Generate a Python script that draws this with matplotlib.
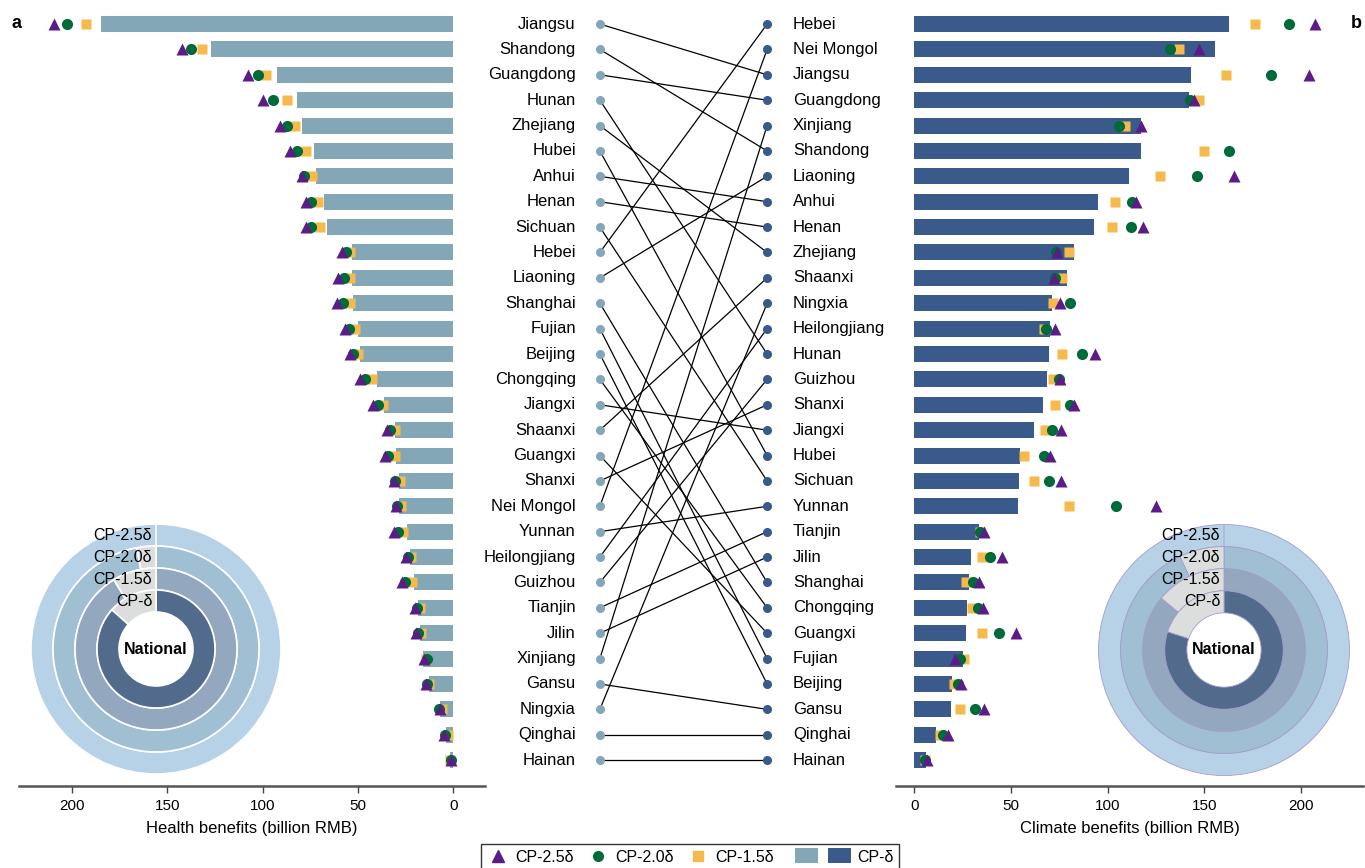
import numpy as np
import matplotlib.pyplot as plt
from matplotlib.lines import Line2D
from matplotlib.patches import Patch, Rectangle

plt.rcParams['font.family'] = ['Liberation Sans', 'DejaVu Sans']

# Provinces ranked by health benefits (panel a)
health_provinces = ['Jiangsu', 'Shandong', 'Guangdong', 'Hunan', 'Zhejiang', 'Hubei', 'Anhui',
                    'Henan', 'Sichuan', 'Hebei', 'Liaoning', 'Shanghai', 'Fujian', 'Beijing',
                    'Chongqing', 'Jiangxi', 'Shaanxi', 'Guangxi', 'Shanxi', 'Nei Mongol', 'Yunnan',
                    'Heilongjiang', 'Guizhou', 'Tianjin', 'Jilin', 'Xinjiang', 'Gansu', 'Ningxia',
                    'Qinghai', 'Hainan']
health_cp10 = [184.7, 127.0, 92.4, 82.0, 79.3, 73.0, 72.0, 67.8, 66.2, 53.1, 53.1, 52.6, 50.0, 48.9,
               40.0, 36.3, 30.6, 30.0, 28.5, 28.5, 24.1, 22.7, 20.6, 18.4, 17.5, 16.0, 12.7, 7.0,
               3.8, 1.5]
health_cp15 = [192.8, 132.0, 98.2, 87.4, 83.0, 77.2, 74.3, 71.1, 69.9, 54.2, 54.0, 54.2, 51.5, 49.8,
               42.8, 37.0, 30.6, 30.6, 27.8, 27.3, 26.2, 22.0, 21.8, 17.5, 16.8, 14.5, 12.5, 6.0,
               3.0, 1.5]
health_cp20 = [202.7, 137.7, 102.6, 94.4, 87.0, 82.1, 78.3, 74.8, 74.6, 56.4, 57.1, 58.0, 54.5, 52.8,
               46.3, 39.6, 33.2, 34.1, 30.6, 29.4, 28.8, 23.6, 25.3, 19.2, 18.4, 14.0, 14.0, 7.3,
               4.2, 1.2]
health_cp25 = [209.4, 142.4, 107.5, 99.6, 90.9, 85.6, 79.5, 77.2, 77.2, 58.5, 60.6, 60.8, 56.8, 54.2,
               48.9, 41.9, 34.6, 35.8, 30.9, 30.0, 30.9, 24.8, 26.7, 20.1, 19.6, 15.4, 14.3, 7.0,
               4.7, 1.4]

# Provinces ranked by climate benefits (panel b)
climate_provinces = ['Hebei', 'Nei Mongol', 'Jiangsu', 'Guangdong', 'Xinjiang', 'Shandong', 'Liaoning',
                     'Anhui', 'Henan', 'Zhejiang', 'Shaanxi', 'Ningxia', 'Heilongjiang', 'Hunan',
                     'Guizhou', 'Shanxi', 'Jiangxi', 'Hubei', 'Sichuan', 'Yunnan', 'Tianjin', 'Jilin',
                     'Shanghai', 'Chongqing', 'Guangxi', 'Fujian', 'Beijing', 'Gansu', 'Qinghai',
                     'Hainan']
climate_cp10 = [162.8, 155.6, 143.2, 142.1, 117.3, 117.3, 111.1, 95.1, 93.0, 82.7, 78.9, 71.3, 70.3,
                69.8, 68.7, 66.7, 62.0, 54.8, 54.3, 53.7, 33.6, 29.5, 28.4, 27.4, 26.9, 25.3, 19.6,
                19.1, 11.2, 6.2]
climate_cp15 = [175.9, 136.6, 161.1, 147.3, 109.0, 149.9, 126.8, 103.9, 102.3, 80.1, 76.3, 71.7, 67.2,
                76.6, 71.7, 72.9, 67.7, 56.7, 61.9, 79.8, 34.1, 35.1, 26.9, 29.6, 35.0, 25.8, 20.3,
                23.4, 13.1, 5.7]
climate_cp20 = [193.8, 132.3, 184.3, 142.3, 105.6, 162.9, 146.1, 112.8, 111.8, 73.0, 72.9, 80.6, 68.2,
                86.5, 74.6, 80.3, 71.2, 67.0, 69.4, 104.5, 34.0, 39.3, 30.3, 32.9, 43.8, 23.8, 22.4,
                31.5, 14.8, 5.7]
climate_cp25 = [207.4, 147.3, 204.0, 144.4, 117.1, np.nan, 165.4, 114.6, 118.0, 74.0, 72.0, 75.1, 72.9,
                93.2, 75.5, 82.8, 75.6, 70.3, 75.8, 124.9, 36.2, 45.5, 33.6, 35.5, 52.6, 21.2, 24.3,
                36.2, 17.4, 6.6]

# National shares shown in the ring insets (outer to inner)
ring_labels = ['CP-2.5δ', 'CP-2.0δ', 'CP-1.5δ', 'CP-δ']
health_national = [1.0, 0.97, 0.913, 0.866]
climate_national = [1.0, 0.93, 0.86, 0.80]

LIGHT_BAR = '#84a7b8'
DARK_BAR = '#3a5a8c'
PURPLE = '#5b1c87'
GREEN = '#006b3a'
ORANGE = '#f6b94b'
RING_COLORS = ['#b7d2e6', '#a0bfd3', '#93a7be', '#526b8c']
RING_GAP = '#dcdedd'

W, H = 1365, 868
fig = plt.figure(figsize=(W / 100, H / 100), dpi=100)


def px_axes(x0, y0, x1, y1, **kw):
    return fig.add_axes([x0 / W, 1 - y1 / H, (x1 - x0) / W, (y1 - y0) / H], **kw)


ylim = (30.02, -0.79)
rows = np.arange(len(health_provinces))


def style_axis(ax, xlabel):
    for s in ['top', 'left', 'right']:
        ax.spines[s].set_visible(False)
    ax.spines['bottom'].set_color('#555555')
    ax.spines['bottom'].set_linewidth(1.8)
    ax.set_yticks([])
    ax.set_xticks([0, 50, 100, 150, 200])
    ax.tick_params(axis='x', direction='out', length=5, width=1, color='#444444',
                   labelsize=11, pad=4)
    ax.set_xlabel(xlabel, fontsize=12, labelpad=6)
    ax.set_ylim(*ylim)
    ax.patch.set_visible(False)


def draw_panel(ax, bars, c15, c20, c25, bar_color):
    ax.barh(rows, bars, height=0.63, color=bar_color, zorder=1)
    ax.plot(c15, rows, 's', ms=7.2, color=ORANGE, mec='none', zorder=2, clip_on=False)
    ax.plot(c20, rows, 'o', ms=8, color=GREEN, mec='none', zorder=3, clip_on=False)
    ax.plot(c25, rows, '^', ms=8.6, color=PURPLE, mec='none', zorder=4, clip_on=False)


# panel a: health benefits, growing leftwards
ax_l = px_axes(19, 4, 485, 786)
draw_panel(ax_l, health_cp10, health_cp15, health_cp20, health_cp25, LIGHT_BAR)
ax_l.set_xlim(227.7, -16.6)
style_axis(ax_l, 'Health benefits (billion RMB)')

# panel b: climate benefits
ax_r = px_axes(896, 4, 1363, 786)
draw_panel(ax_r, climate_cp10, climate_cp15, climate_cp20, climate_cp25, DARK_BAR)
ax_r.set_xlim(-9.5, 232)
style_axis(ax_r, 'Climate benefits (billion RMB)')

# middle: rank change between the two orderings
ax_m = px_axes(470, 4, 900, 786)
ax_m.set_xlim(0, 1)
ax_m.set_ylim(*ylim)
ax_m.axis('off')
xl, xr = 0.302, 0.691
for i, name in enumerate(health_provinces):
    j = climate_provinces.index(name)
    ax_m.plot([xl, xr], [i, j], color='black', lw=0.9, zorder=1)
ax_m.plot(np.full(len(rows), xl), rows, 'o', ms=5.5, color=LIGHT_BAR, zorder=2)
ax_m.plot(np.full(len(rows), xr), rows, 'o', ms=5.5, color=DARK_BAR, zorder=2)
for i, name in enumerate(health_provinces):
    ax_m.text(0.246, i, name, ha='right', va='center', fontsize=12)
for j, name in enumerate(climate_provinces):
    ax_m.text(0.751, j, name, ha='left', va='center', fontsize=12)

fig.text(12 / W, 1 - 24 / H, 'a', fontsize=13, weight='bold', va='center')
fig.text(1351 / W, 1 - 24 / H, 'b', fontsize=13, weight='bold', va='center')


# national ring insets
def draw_rings(cx, cy, r, shares, edge, lw):
    ax = px_axes(cx - r - 2, cy - r - 2, cx + r + 2, cy + r + 2)
    radii = [1.0, 0.824, 0.648, 0.472]
    for rad, share, col in zip(radii, shares, RING_COLORS):
        ax.pie([share, 1 - share], radius=rad, colors=[col, RING_GAP], startangle=90,
               counterclock=False, wedgeprops=dict(width=0.176, edgecolor=edge, linewidth=lw))
    for rad, lab in zip(radii, ring_labels):
        ax.text(-0.03, rad - 0.088, lab, ha='right', va='center', fontsize=11.5)
    ax.text(0, 0, 'National', ha='center', va='center', fontsize=11.5, weight='bold')
    lim = (r + 2) / r
    ax.set_xlim(-lim, lim)
    ax.set_ylim(-lim, lim)
    ax.axis('off')


draw_rings(156, 649, 125, health_national, 'white', 1.2)
draw_rings(1224, 650, 125.5, climate_national, '#a49ccc', 0.6)


# legend: the light bar swatch sits right next to the dark one
class NudgedSwatch:
    def __init__(self, shift):
        self.shift = shift

    def legend_artist(self, legend, orig_handle, fontsize, handlebox):
        x0, y0 = handlebox.xdescent, handlebox.ydescent
        rect = Rectangle((x0 + self.shift, y0 - 1), handlebox.width, handlebox.height + 2,
                         facecolor=orig_handle.get_facecolor(), edgecolor='none',
                         transform=handlebox.get_transform())
        handlebox.add_artist(rect)
        return rect


light_patch = Patch(color=LIGHT_BAR)
dark_patch = Patch(color=DARK_BAR)
handles = [Line2D([], [], marker='^', ls='none', color=PURPLE, ms=8),
           Line2D([], [], marker='o', ls='none', color=GREEN, ms=7),
           Line2D([], [], marker='s', ls='none', color=ORANGE, ms=7),
           light_patch, dark_patch]
labels = ['CP-2.5δ', 'CP-2.0δ', 'CP-1.5δ', '', 'CP-δ']
leg = fig.legend(handles, labels, loc='lower center', bbox_to_anchor=(690 / W, -0.012), ncol=5,
                 fontsize=11.5, frameon=True, fancybox=False, edgecolor='black',
                 handlelength=1.45, handleheight=0.75, handletextpad=0.35, columnspacing=0.8,
                 borderpad=0.35,
                 handler_map={light_patch: NudgedSwatch(6), dark_patch: NudgedSwatch(0)})
leg.get_frame().set_linewidth(1.0)

fig.savefig('out.png', dpi=100)
